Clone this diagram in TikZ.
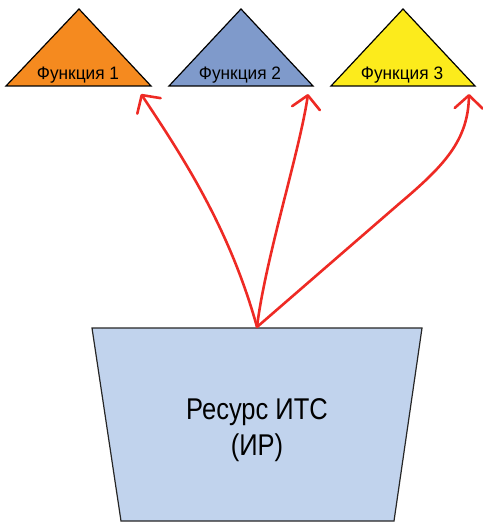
\documentclass[tikz,border=0pt]{standalone}
\usepackage{fontspec}
\setmainfont[FakeStretch=0.85]{Liberation Sans}
\newfontfamily\funcfont[FakeStretch=0.96]{Liberation Sans}
\usetikzlibrary{arrows.meta}
\definecolor{funcorange}{HTML}{F58A1F}
\definecolor{funcblue}{HTML}{7F9ACB}
\definecolor{funcyellow}{HTML}{FCEB1C}
\definecolor{resfill}{HTML}{C1D3ED}
\definecolor{linkred}{HTML}{EE2A24}
\tikzset{
  funcshape/.style={draw=black, line width=1.2pt, line join=miter},
  funclabel/.style={anchor=base, inner sep=0pt, font=\funcfont\fontsize{18}{21}\selectfont},
  resshape/.style={draw=black!85, line width=1.2pt, fill=resfill},
  reslabel/.style={anchor=base, inner sep=0pt, font=\fontsize{30}{34}\selectfont},
  link/.style={draw=linkred, line width=2.6pt, line cap=round, line join=round,
    -{Straight Barb[length=13pt,width=28pt,round]}}
}
\begin{document}
\begin{tikzpicture}[x=1pt,y=-1pt]
  \useasboundingbox (0,0) rectangle (482,524);
  % functions
  \path[funcshape, fill=funcorange] (6,86) -- (79,9) -- (151,86) -- cycle;
  \path[funcshape, fill=funcblue]   (169,86) -- (241,9) -- (313,86) -- cycle;
  \path[funcshape, fill=funcyellow] (331,86) -- (403,9) -- (475,86) -- cycle;
  \node[funclabel] (f1) at (78,80) {Функция 1};
  \node[funclabel] (f2) at (240,80) {Функция 2};
  \node[funclabel] (f3) at (402,80) {Функция 3};
  % resource
  \path[resshape] (92,328) -- (422,328) -- (394,521) -- (121,521) -- cycle;
  \node[reslabel] (res1) at (257,419) {Ресурс ИТС};
  \node[reslabel] (res2) at (257,455) {(ИР)};
  % connector ends
  \coordinate (src) at (257,327);
  \coordinate (t1) at (141,94);
  \coordinate (t2) at (308,94);
  \coordinate (t3) at (469,94);
  \coordinate (k3) at (400,203);
  % links
  \draw[link] (src) .. controls (230,230) and (185,160) .. (t1);
  \draw[link] (src) .. controls (265,260) and (300,150) .. (t2);
  \draw[link] (src) -- (k3) .. controls (445,165) and (468,140) .. (t3);
\end{tikzpicture}
\end{document}
